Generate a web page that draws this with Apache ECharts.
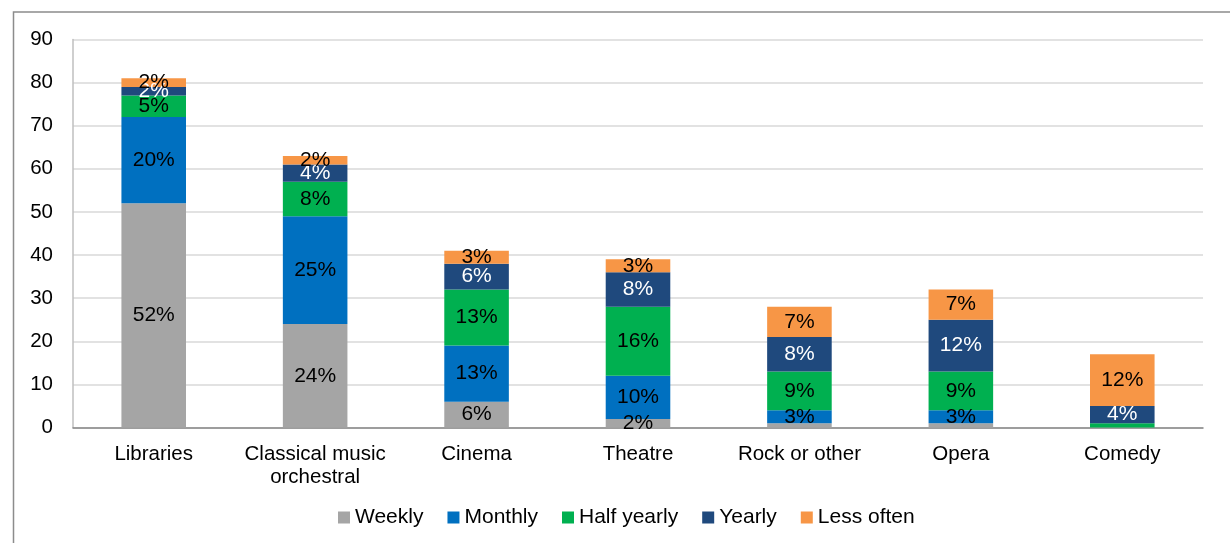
<!DOCTYPE html>
<html>
<head>
<meta charset="utf-8">
<script src="https://cdn.jsdelivr.net/npm/echarts@6/dist/echarts.min.js"></script>
<style>
  html, body { margin: 0; padding: 0; background: #fff; }
  #chart { width: 1230px; height: 543px; }
</style>
</head>
<body>
<div id="chart"></div>
<script>
var categories = ["Libraries", "Classical music\norchestral", "Cinema", "Theatre", "Rock or other", "Opera", "Comedy"];
var weekly     = [52, 24, 6, 2, 1, 1, 0];
var monthly    = [20, 25, 13, 10, 3, 3, 0];
var halfYearly = [5, 8, 13, 16, 9, 9, 1];
var yearly     = [2, 4, 6, 8, 8, 12, 4];
var lessOften  = [2, 2, 3, 3, 7, 7, 12];
var yTicks = [0, 10, 20, 30, 40, 50, 60, 70, 80, 90];

var seriesDefs = [
  { name: "Weekly",      data: weekly,     color: "#a5a5a5", text: "#000" },
  { name: "Monthly",     data: monthly,    color: "#0070c0", text: "#000" },
  { name: "Half yearly", data: halfYearly, color: "#00b050", text: "#000" },
  { name: "Yearly",      data: yearly,     color: "#1f497d", text: "#fff" },
  { name: "Less often",  data: lessOften,  color: "#f79646", text: "#000" }
];

var font = "Liberation Sans, Arial, sans-serif";
var chart = echarts.init(document.getElementById("chart"));

chart.setOption({
  animation: false,
  textStyle: { fontFamily: font },
  grid: { left: 73, right: 27, top: 39.5, bottom: 115.5, containLabel: false },
  legend: {
    bottom: 10,
    left: 333,
    itemWidth: 12,
    itemHeight: 12,
    itemGap: 24,
    icon: "rect",
    textStyle: { fontSize: 21, color: "#000", fontFamily: font, padding: [0, 0, 0, 0] },
    data: seriesDefs.map(function (s) { return s.name; })
  },
  xAxis: {
    type: "category",
    data: categories,
    axisLine: { lineStyle: { color: "#868686", width: 1.5 } },
    axisTick: { show: false },
    axisLabel: { interval: 0, fontSize: 20.5, color: "#000", margin: 15, lineHeight: 23, fontFamily: font }
  },
  yAxis: {
    type: "value",
    min: yTicks[0],
    max: yTicks[yTicks.length - 1],
    interval: 10,
    axisLine: { show: true, lineStyle: { color: "#bfbfbf", width: 1.5 } },
    axisTick: { show: false },
    splitLine: { lineStyle: { color: "#d9d9d9", width: 1.5 } },
    axisLabel: { fontSize: 20.5, color: "#000", margin: 20, fontFamily: font }
  },
  series: seriesDefs.map(function (s) {
    return {
      name: s.name,
      type: "bar",
      stack: "total",
      barWidth: "40%",
      data: s.data,
      itemStyle: { color: s.color },
      label: {
        show: true,
        position: "inside",
        fontSize: 21,
        color: s.text,
        fontFamily: font,
        textBorderWidth: 0,
        formatter: function (p) { return p.value >= 2 ? p.value + "%" : ""; }
      }
    };
  }),
  graphic: [{
    type: "polyline",
    shape: { points: [[13.5, 543], [13.5, 12], [1230, 12]] },
    style: { stroke: "#8c8c8c", lineWidth: 1.5, fill: null }
  }]
});
</script>
</body>
</html>
